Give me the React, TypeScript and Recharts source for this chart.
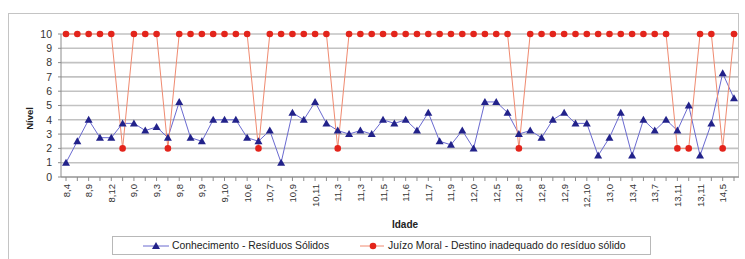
import React from 'react';
import { LineChart, Line, XAxis, YAxis, CartesianGrid, Legend } from 'recharts';

// Visible age labels (one every two points)
const tickLabels = [
  '8,4', '8,9', '8,12', '9,0', '9,3', '9,8', '9,9', '9,10', '10,6', '10,7',
  '10,9', '10,11', '11,3', '11,3', '11,5', '11,6', '11,7', '11,9', '12,0', '12,5',
  '12,8', '12,8', '12,9', '12,10', '13,0', '13,4', '13,7', '13,11', '13,11', '14,5',
];

// Conhecimento - Resíduos Sólidos
const conhecimento = [
  1, 2.5, 4, 2.75, 2.75, 3.75, 3.75, 3.25, 3.5, 2.75,
  5.25, 2.75, 2.5, 4, 4, 4, 2.75, 2.5, 3.25, 1,
  4.5, 4, 5.25, 3.75, 3.25, 3, 3.25, 3, 4, 3.75,
  4, 3.25, 4.5, 2.5, 2.25, 3.25, 2, 5.25, 5.25, 4.5,
  3, 3.25, 2.75, 4, 4.5, 3.75, 3.75, 1.5, 2.75, 4.5,
  1.5, 4, 3.25, 4, 3.25, 5, 1.5, 3.75, 7.25, 5.5,
];

// Juízo Moral - Destino inadequado do resíduo sólido
const juizo = [
  10, 10, 10, 10, 10, 2, 10, 10, 10, 2,
  10, 10, 10, 10, 10, 10, 10, 2, 10, 10,
  10, 10, 10, 10, 2, 10, 10, 10, 10, 10,
  10, 10, 10, 10, 10, 10, 10, 10, 10, 10,
  2, 10, 10, 10, 10, 10, 10, 10, 10, 10,
  10, 10, 10, 10, 2, 2, 10, 10, 2, 10,
];

const yTicks = [0, 1, 2, 3, 4, 5, 6, 7, 8, 9, 10];

const data = conhecimento.map((v, i) => ({
  idx: i,
  idade: i % 2 === 0 ? tickLabels[i / 2] : '',
  conhecimento: v,
  juizo: juizo[i],
}));

const FONT = '"Liberation Sans", Arial, sans-serif';
const BLUE_LINE = '#6a6ad0';
const BLUE_MARK = '#22228a';
const RED_LINE = '#f08a70';
const RED_MARK = '#e3241b';

const Tri = (props: any) => {
  const { cx, cy } = props;
  if (cx == null || cy == null) return null;
  return (
    <polygon
      points={`${cx},${cy - 4} ${cx - 4},${cy + 3} ${cx + 4},${cy + 3}`}
      fill={BLUE_MARK}
    />
  );
};

const XTick = (props: any) => {
  const { x, y, payload } = props;
  const label = data[payload.index]?.idade ?? '';
  if (!label) return null;
  return (
    <text
      x={x}
      y={y}
      transform={`rotate(-90 ${x} ${y})`}
      textAnchor="end"
      dominantBaseline="central"
      fontSize={9.5}
      fill="#333"
      fontFamily={FONT}
    >
      {label}
    </text>
  );
};

const LegendBox = (props: any) => {
  const payload = props.payload || [];
  const blue = payload.find((p: any) => p.dataKey === 'conhecimento');
  const red = payload.find((p: any) => p.dataKey === 'juizo');
  return (
    <div
      style={{
        width: 539,
        height: 19,
        border: '1px solid #b8b8b8',
        boxSizing: 'border-box',
        display: 'flex',
        alignItems: 'center',
        fontFamily: FONT,
        fontSize: 10.4,
        color: '#222',
        whiteSpace: 'nowrap',
        background: '#fff',
      }}
    >
      <svg width={26} height={10} style={{ marginLeft: 30 }}>
        <line x1={0} y1={5} x2={26} y2={5} stroke={BLUE_LINE} strokeWidth={1} />
        <polygon points="13,1 9,8 17,8" fill={BLUE_MARK} />
      </svg>
      <span style={{ marginLeft: 3 }}>{blue ? blue.value : ''}</span>
      <svg width={24} height={10} style={{ marginLeft: 31 }}>
        <line x1={0} y1={5} x2={24} y2={5} stroke={RED_LINE} strokeWidth={1} />
        <circle cx={13} cy={5} r={3.3} fill={RED_MARK} />
      </svg>
      <span style={{ marginLeft: 4 }}>{red ? red.value : ''}</span>
    </div>
  );
};

export default function App() {
  return (
    <div
      style={{
        position: 'absolute',
        left: 0,
        top: 0,
        width: 745,
        height: 259,
        background: '#fff',
        overflow: 'hidden',
      }}
    >
      <div
        style={{
          position: 'absolute',
          left: 8,
          top: 13,
          width: 731,
          height: 260,
          borderTop: '1px solid #c4c4c4',
          borderLeft: '1px solid #c4c4c4',
          boxSizing: 'border-box',
        }}
      />
      <div
        style={{
          position: 'absolute',
          left: 738,
          top: 13,
          width: 1,
          height: 164,
          background: '#c4c4c4',
        }}
      />
      <div style={{ position: 'absolute', left: 0, top: 0 }}>
        <LineChart
          width={745}
          height={259}
          data={data}
          margin={{ top: 34, right: 6, bottom: 0, left: 0 }}
        >
          <CartesianGrid
            horizontal
            vertical={false}
            stroke="#c2c2c2"
            strokeWidth={1.6}
          />
          <XAxis
            dataKey="idx"
            type="category"
            interval={0}
            height={82}
            padding={{ left: 5, right: 5 }}
            axisLine={{ stroke: '#8c8c8c' }}
            tickLine={{ stroke: '#8c8c8c' }}
            tickSize={4}
            tickMargin={3}
            tick={<XTick />}
            label={(p: any) => {
              const vb = p.viewBox || {};
              return (
                <text
                  x={vb.x + vb.width / 2 + 5}
                  y={228}
                  textAnchor="middle"
                  fontSize={10}
                  fontWeight="bold"
                  fill="#222"
                  fontFamily={FONT}
                >
                  Idade
                </text>
              );
            }}
          />
          <YAxis
            width={61}
            domain={[0, 10]}
            ticks={yTicks}
            interval={0}
            axisLine={{ stroke: '#8c8c8c' }}
            tickLine={{ stroke: '#8c8c8c' }}
            tickSize={3}
            tickMargin={6}
            tick={{ fontSize: 10.5, fill: '#333', fontFamily: FONT }}
            label={(p: any) => {
              const vb = p.viewBox || {};
              const cx = 29;
              const cy = vb.y + vb.height / 2 + 13;
              return (
                <text
                  x={cx}
                  y={cy}
                  transform={`rotate(-90 ${cx} ${cy})`}
                  textAnchor="middle"
                  dominantBaseline="central"
                  fontSize={9.5}
                  fontWeight="bold"
                  fill="#222"
                  fontFamily={FONT}
                >
                  Nível
                </text>
              );
            }}
          />
          <Legend
            layout="horizontal"
            verticalAlign="middle"
            align="center"
            content={<LegendBox />}
            wrapperStyle={{ left: 112, top: 236, width: 539, height: 19 }}
          />
          <Line
            type="linear"
            dataKey="conhecimento"
            name="Conhecimento - Resíduos Sólidos"
            stroke={BLUE_LINE}
            strokeWidth={1}
            dot={<Tri />}
            activeDot={false}
            isAnimationActive={false}
          />
          <Line
            type="linear"
            dataKey="juizo"
            name="Juízo Moral - Destino inadequado do resíduo sólido"
            stroke={RED_LINE}
            strokeWidth={1}
            dot={{ r: 3.3, fill: RED_MARK, stroke: RED_MARK, strokeWidth: 0 }}
            activeDot={false}
            isAnimationActive={false}
          />
        </LineChart>
      </div>
    </div>
  );
}
